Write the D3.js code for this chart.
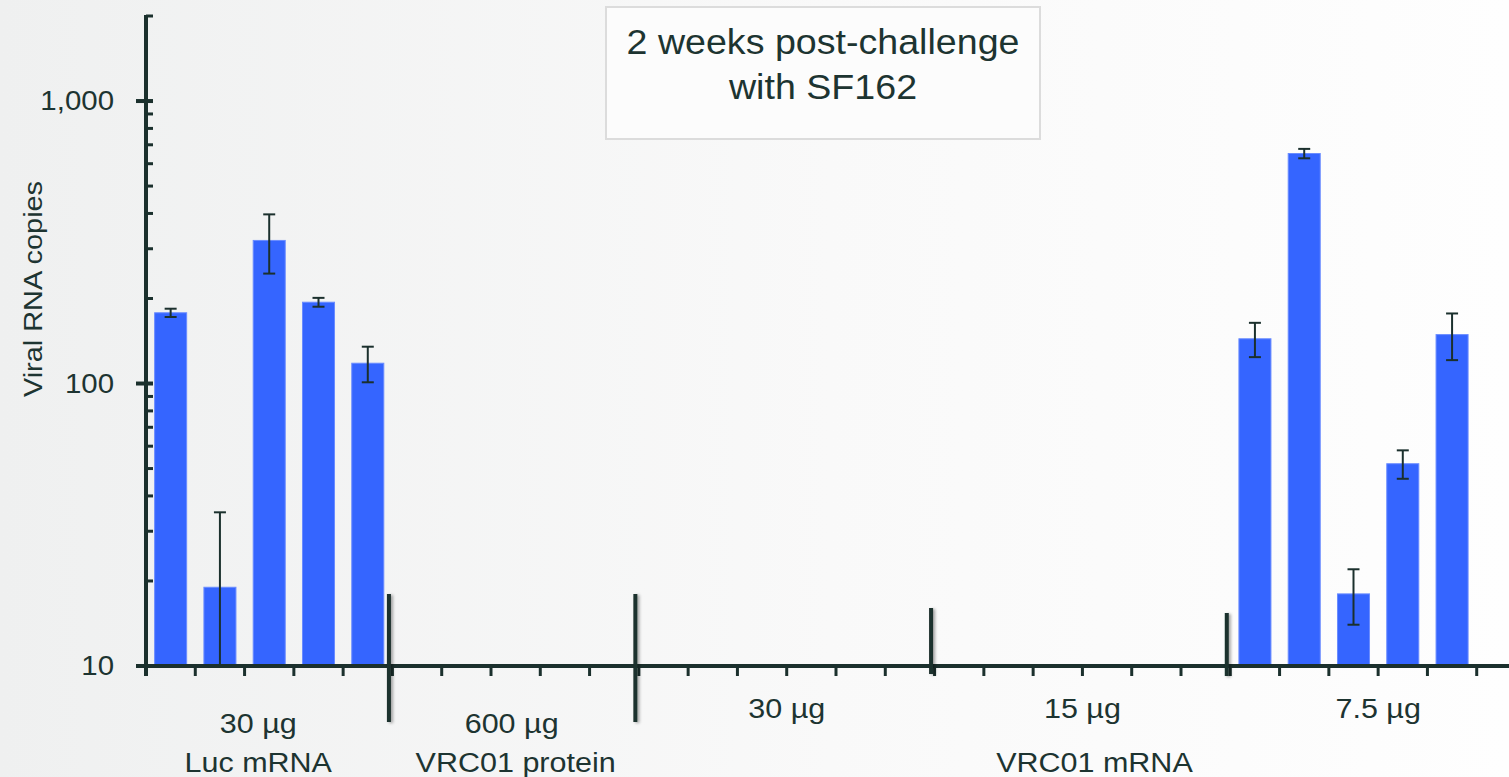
<!DOCTYPE html>
<html lang="en">
<head>
  <meta charset="UTF-8">
  <title>Viral RNA copies 2 weeks post-challenge</title>
  <style>
      body { margin: 0; overflow: hidden; }
      svg { display: block; font-family: "Liberation Sans", Arial, sans-serif; }
      .axis line, .axis path { stroke: #1b302d; }
      .lbl { fill: #1d3431; }
      .bar { fill: #3565ff; stroke: #6a8cff; stroke-width: 1px; }
      .err { stroke: #1b302d; stroke-width: 2px; }
  </style>
</head>
<body>
<div id="chart"></div>
<script src="https://d3js.org/d3.v7.min.js"></script>
<script>
  // one entry per animal, null = below the 10 copies floor
  const lucMrna = [178, 19, 321, 194, 118];
  const lucErr = [6, 16, 76, 7, 17];
  const protein600 = [null, null, null, null, null];
  const vrcMrna30 = [null, null, null, null, null, null];
  const vrcMrna15 = [null, null, null, null, null, null];
  const vrcMrna75 = [144, 652, 18, 52, 149, null];
  const vrcMrna75Err = [20, 25, 4, 6, 28, null];

  const doseLabels = ["30 µg", "600 µg", "30 µg", "15 µg", "7.5 µg"];
  const agentLabels = ["Luc mRNA", "VRC01 protein", "VRC01 mRNA"];
  const agentGroups = [[0], [1], [2, 3, 4]];
  const yTicks = [10, 100, 1000];
  const titleLines = ["2 weeks post-challenge", "with SF162"];

  document.addEventListener('DOMContentLoaded', function () {
    const groups = [
      {values: lucMrna, err: lucErr},
      {values: protein600, err: protein600},
      {values: vrcMrna30, err: vrcMrna30},
      {values: vrcMrna15, err: vrcMrna15},
      {values: vrcMrna75, err: vrcMrna75Err}
    ];
    const animals = [];
    groups.forEach((g, gi) => g.values.forEach((v, i) =>
      animals.push({id: gi + "-" + i, group: gi, value: v, err: g.err[i]})));

    const W = 1509, H = 777;
    const margin = {top: 16, left: 146, bottom: 111};
    const axisY = H - margin.bottom;
    const color = "#1b302d";
    const stretch = 1.09;  // the slide text is a little wider than Arial

    const svg = d3.select("#chart").append("svg")
      .attr("width", W)
      .attr("height", H);

    const defs = svg.append("defs");
    const grad = defs.append("linearGradient").attr("id", "bg");
    grad.append("stop").attr("offset", "0%").attr("stop-color", "#eff0f0");
    grad.append("stop").attr("offset", "55%").attr("stop-color", "#f9f9f9");
    grad.append("stop").attr("offset", "100%").attr("stop-color", "#fefefe");
    const shadow = defs.append("filter").attr("id", "shadow")
      .attr("filterUnits", "userSpaceOnUse")
      .attr("x", 0).attr("y", 0).attr("width", W).attr("height", H);
    shadow.append("feDropShadow").attr("dx", 2).attr("dy", 1)
      .attr("stdDeviation", 1.5).attr("flood-opacity", 0.35);

    svg.append("rect").attr("width", W).attr("height", H).attr("fill", "url(#bg)");

    function label(px, py, size, txt, anchor, rot) {
      svg.append("text")
        .attr("class", "lbl")
        .attr("transform", `translate(${px},${py})${rot ? " rotate(" + rot + ")" : ""} scale(${stretch},1)`)
        .attr("text-anchor", anchor || "middle")
        .style("font-size", size + "px")
        .text(txt);
    }

    // x runs past the right edge of the picture, as in the original slide
    const x = d3.scaleBand()
      .domain(animals.map(d => d.id))
      .range([margin.left, margin.left + 1380])
      .paddingInner(0.33)
      .paddingOuter(0.165);

    const y = d3.scaleLog()
      .domain([10, 2000])
      .range([axisY, margin.top]);

    // bars
    svg.selectAll(".bar")
      .data(animals.filter(d => d.value != null))
      .enter().append("rect")
      .attr("class", "bar")
      .attr("x", d => x(d.id) + 0.5)
      .attr("width", x.bandwidth() - 1)
      .attr("y", d => y(d.value))
      .attr("height", d => axisY - y(d.value));

    // error bars
    const eb = svg.selectAll(".eb")
      .data(animals.filter(d => d.value != null))
      .enter().append("g")
      .attr("class", "eb")
      .attr("transform", d => `translate(${x(d.id) + x.bandwidth() / 2},0)`);
    eb.append("line").attr("class", "err")
      .attr("y1", d => y(d.value + d.err))
      .attr("y2", d => y(Math.max(10, d.value - d.err)));
    eb.append("line").attr("class", "err")
      .attr("x1", -6).attr("x2", 6)
      .attr("y1", d => y(d.value + d.err)).attr("y2", d => y(d.value + d.err));
    eb.filter(d => d.value - d.err > 10).append("line").attr("class", "err")
      .attr("x1", -6).attr("x2", 6)
      .attr("y1", d => y(d.value - d.err)).attr("y2", d => y(d.value - d.err));

    // y axis: minor ticks on the right, majors both sides
    const minor = [];
    [10, 100, 1000].forEach(dec => d3.range(2, 10).forEach(k => {
      if (dec * k <= 2000) minor.push(dec * k);
    }));
    const yAxis = svg.append("g").attr("class", "axis");
    yAxis.selectAll(".minor")
      .data(minor)
      .enter().append("line")
      .attr("x1", margin.left).attr("x2", margin.left + 7)
      .attr("y1", d => y(d)).attr("y2", d => y(d))
      .attr("stroke-width", 3);
    yAxis.selectAll(".major")
      .data(yTicks.slice(1))
      .enter().append("line")
      .attr("x1", margin.left - 10).attr("x2", margin.left + 7)
      .attr("y1", d => y(d)).attr("y2", d => y(d))
      .attr("stroke-width", 4);
    yAxis.append("line")
      .attr("x1", margin.left).attr("x2", margin.left)
      .attr("y1", y(2000) - 1).attr("y2", axisY + 10)
      .attr("stroke-width", 4);
    yTicks.forEach(t => label(114, y(t) + 9, 27, d3.format(",")(t), "end"));

    label(42, 289, 26.5, "Viral RNA copies", "middle", -90);

    // x axis: a tick at every band edge
    const step = x.step();
    const edges = d3.range(animals.length + 1).map(i => margin.left + i * step);
    const xAxis = svg.append("g").attr("class", "axis");
    xAxis.selectAll(".xt")
      .data(edges)
      .enter().append("line")
      .attr("x1", d => d).attr("x2", d => d)
      .attr("y1", axisY).attr("y2", axisY + 10)
      .attr("stroke-width", 3);
    xAxis.append("line")
      .attr("x1", margin.left - 10).attr("x2", margin.left + 1400)
      .attr("y1", axisY).attr("y2", axisY)
      .attr("stroke-width", 4);

    // group separators
    const groupStart = [];
    let acc = 0;
    groups.forEach(g => { groupStart.push(acc); acc += g.values.length; });
    groupStart.push(acc);
    const sepSpan = [[-72, 56], [-72, 56], [-58, 8], [-53, 10]];
    svg.selectAll(".sep")
      .data(groupStart.slice(1, 5))
      .enter().append("rect")
      .attr("x", d => margin.left + d * step - 5.5)
      .attr("width", 4)
      .attr("y", (d, i) => axisY + sepSpan[i][0])
      .attr("height", (d, i) => sepSpan[i][1] - sepSpan[i][0])
      .attr("fill", color)
      .attr("filter", "url(#shadow)");

    const groupMid = i => margin.left + (groupStart[i] + groupStart[i + 1]) / 2 * step;

    doseLabels.forEach((d, i) =>
      label(groupMid(i) + (i === 0 ? -11 : i === 1 ? -4 : 0), i < 2 ? 733 : 718, 28, d));

    agentLabels.forEach((d, i) => {
      const g = agentGroups[i];
      const px = g.length > 1 ? groupMid(g[1]) + 12 : groupMid(g[0]) + (i === 0 ? -11 : 0);
      label(px, 772, 28, d);
    });

    // title box
    svg.append("rect")
      .attr("x", 606).attr("y", 7)
      .attr("width", 434).attr("height", 132)
      .attr("fill", "#fcfcfc")
      .attr("stroke", "#dcdcdc")
      .attr("stroke-width", 2);
    titleLines.forEach((d, i) => label(823, 54 + i * 45, 34.5, d));
  });
</script>
</body>
</html>
